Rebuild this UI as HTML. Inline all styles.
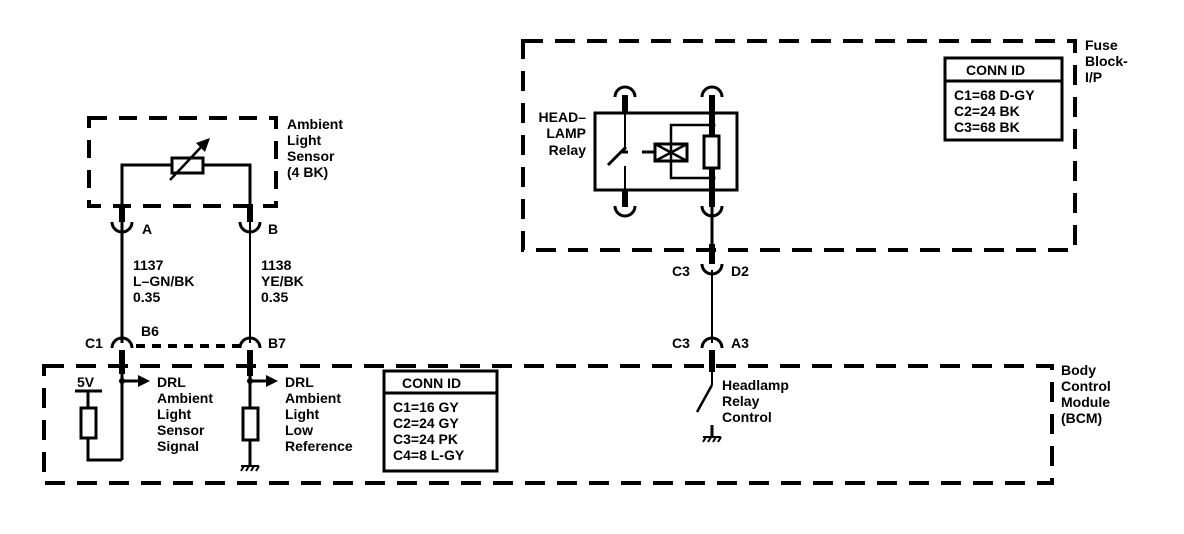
<!DOCTYPE html>
<html><head><meta charset="utf-8"><style>
html,body{margin:0;padding:0;background:#fff;}
svg{display:block;}
text{font-family:"Liberation Sans",Arial,sans-serif;font-size:14px;font-weight:bold;fill:#000;}
</style></head><body>
<svg width="1184" height="534" viewBox="0 0 1184 534" xmlns="http://www.w3.org/2000/svg">
<g fill="none" stroke="#000">
<rect x="89" y="118" width="187" height="88" stroke-width="4" stroke-dasharray="18,12"/>
<rect x="44" y="366" width="1008" height="117" stroke-width="4" stroke-dasharray="20,12"/>
<rect x="523" y="41" width="552" height="209" stroke-width="4" stroke-dasharray="20,12"/>

<path d="M122 206 V165 H250 V206" stroke-width="3"/>
<rect x="172" y="158" width="31" height="15" fill="#fff" stroke-width="3"/>
<line x1="170" y1="180" x2="203" y2="145" stroke-width="2.5"/>
<polygon points="210,138 196,143 205,152" fill="#000" stroke="none"/>
<line x1="122" y1="204" x2="122" y2="222" stroke-width="6"/>
<line x1="250" y1="204" x2="250" y2="222" stroke-width="6"/>
<path d="M112 222 A10 10 0 0 0 132 222" stroke-width="3"/>
<path d="M240 222 A10 10 0 0 0 260 222" stroke-width="3"/>
<line x1="122" y1="222" x2="122" y2="343" stroke-width="3"/>
<line x1="250" y1="222" x2="250" y2="343" stroke-width="2"/>
<path d="M112 348 A10 10 0 0 1 132 348" stroke-width="3"/>
<path d="M240 348 A10 10 0 0 1 260 348" stroke-width="3"/>
<line x1="136" y1="346" x2="240" y2="346" stroke-width="4" stroke-dasharray="9,7"/>
<line x1="122" y1="350" x2="122" y2="374" stroke-width="6"/>
<line x1="122" y1="374" x2="122" y2="460" stroke-width="3"/>
<line x1="250" y1="350" x2="250" y2="376" stroke-width="6"/>
<line x1="250" y1="376" x2="250" y2="465" stroke-width="3"/>
<line x1="75" y1="391" x2="102" y2="391" stroke-width="3"/>
<path d="M88 391 V460 H122" stroke-width="3"/>
<rect x="81" y="408" width="15" height="30" fill="#fff" stroke-width="3"/>
<rect x="243" y="408" width="15" height="32" fill="#fff" stroke-width="3"/>
<line x1="122" y1="381" x2="140" y2="381" stroke-width="3"/>
<line x1="250" y1="381" x2="268" y2="381" stroke-width="3"/>
<rect x="384" y="371" width="113" height="100" fill="#fff" stroke-width="3"/>
<line x1="384" y1="393" x2="497" y2="393" stroke-width="3"/>
<rect x="945" y="58" width="117" height="82" fill="#fff" stroke-width="3"/>
<line x1="945" y1="81" x2="1062" y2="81" stroke-width="3"/>

<rect x="595" y="113" width="142" height="77" stroke-width="3"/>
<path d="M615 97 A10 10 0 0 1 635 97" stroke-width="3"/>
<path d="M702 97 A10 10 0 0 1 722 97" stroke-width="3"/>
<path d="M615 206 A10 10 0 0 0 635 206" stroke-width="3"/>
<path d="M702 206 A10 10 0 0 0 722 206" stroke-width="3"/>
<line x1="625" y1="95" x2="625" y2="113" stroke-width="6"/>
<line x1="625" y1="190" x2="625" y2="207" stroke-width="6"/>
<line x1="625" y1="113" x2="625" y2="150" stroke-width="2"/>
<line x1="625" y1="166" x2="625" y2="190" stroke-width="2"/>
<line x1="608" y1="165" x2="626" y2="147" stroke-width="3"/>
<line x1="620" y1="152" x2="628" y2="152" stroke-width="3"/>
<line x1="712" y1="95" x2="712" y2="207" stroke-width="6"/>
<line x1="642" y1="152" x2="655" y2="152" stroke-width="3"/>
<rect x="655" y="144" width="32" height="17" stroke-width="3"/>
<path d="M655 144 L687 161 M655 161 L687 144" stroke-width="2.5"/>
<path d="M712 125 H671 V178 H712" stroke-width="2.5"/>
<rect x="704" y="136" width="15" height="32" fill="#fff" stroke-width="3"/>
<line x1="712" y1="207" x2="712" y2="264" stroke-width="3"/>
<line x1="712" y1="244" x2="712" y2="264" stroke-width="6"/>
<path d="M702 264 A10 10 0 0 0 722 264" stroke-width="3"/>
<line x1="712" y1="270" x2="712" y2="343" stroke-width="2"/>
<path d="M702 348 A10 10 0 0 1 722 348" stroke-width="3"/>
<line x1="712" y1="350" x2="712" y2="372" stroke-width="6"/>
<line x1="712" y1="372" x2="712" y2="385" stroke-width="2"/>
<line x1="712" y1="385" x2="697" y2="412" stroke-width="2.5"/>
<line x1="712" y1="425" x2="712" y2="436" stroke-width="3"/>
</g>
<g fill="#000">
<circle cx="122" cy="381" r="3"/><circle cx="250" cy="381" r="3"/>
<polygon points="138,375 150,381 138,387"/><polygon points="266,375 278,381 266,387"/>
<circle cx="712" cy="125" r="3.5"/><circle cx="712" cy="178" r="3.5"/>
</g>
<g stroke="#000" stroke-width="2">
<line x1="241" y1="466" x2="259" y2="466"/>
<line x1="244" y1="466" x2="241" y2="471"/><line x1="249" y1="466" x2="246" y2="471"/><line x1="254" y1="466" x2="251" y2="471"/><line x1="259" y1="466" x2="256" y2="471"/>
<line x1="703" y1="437" x2="721" y2="437"/>
<line x1="706" y1="437" x2="703" y2="442"/><line x1="711" y1="437" x2="708" y2="442"/><line x1="716" y1="437" x2="713" y2="442"/><line x1="721" y1="437" x2="718" y2="442"/>
</g>
<text x="287" y="129">Ambient</text><text x="287" y="145">Light</text><text x="287" y="161">Sensor</text><text x="287" y="177">(4 BK)</text>
<text x="142" y="234">A</text><text x="268" y="234">B</text>
<text x="133" y="270">1137</text><text x="133" y="286">L–GN/BK</text><text x="133" y="302">0.35</text>
<text x="261" y="270">1138</text><text x="261" y="286">YE/BK</text><text x="261" y="302">0.35</text>
<text x="85" y="348">C1</text><text x="141" y="336">B6</text><text x="268" y="348">B7</text>
<text x="77" y="387">5V</text>
<text x="157" y="387">DRL</text><text x="157" y="403">Ambient</text><text x="157" y="419">Light</text><text x="157" y="435">Sensor</text><text x="157" y="451">Signal</text>
<text x="285" y="387">DRL</text><text x="285" y="403">Ambient</text><text x="285" y="419">Light</text><text x="285" y="435">Low</text><text x="285" y="451">Reference</text>
<text x="402" y="388">CONN ID</text>
<text x="393" y="412">C1=16 GY</text><text x="393" y="428">C2=24 GY</text><text x="393" y="444">C3=24 PK</text><text x="393" y="460">C4=8 L-GY</text>
<text x="966" y="75">CONN ID</text>
<text x="954" y="100">C1=68 D-GY</text><text x="954" y="116">C2=24 BK</text><text x="954" y="132">C3=68 BK</text>
<text x="1085" y="50">Fuse</text><text x="1085" y="66">Block-</text><text x="1085" y="82">I/P</text>
<text x="586" y="122" text-anchor="end">HEAD–</text><text x="586" y="138" text-anchor="end">LAMP</text><text x="586" y="155" text-anchor="end">Relay</text>
<text x="672" y="276">C3</text><text x="731" y="276">D2</text>
<text x="672" y="348">C3</text><text x="731" y="348">A3</text>
<text x="722" y="390">Headlamp</text><text x="722" y="406">Relay</text><text x="722" y="422">Control</text>
<text x="1061" y="375">Body</text><text x="1061" y="391">Control</text><text x="1061" y="407">Module</text><text x="1061" y="423">(BCM)</text>
</svg>
</body></html>
